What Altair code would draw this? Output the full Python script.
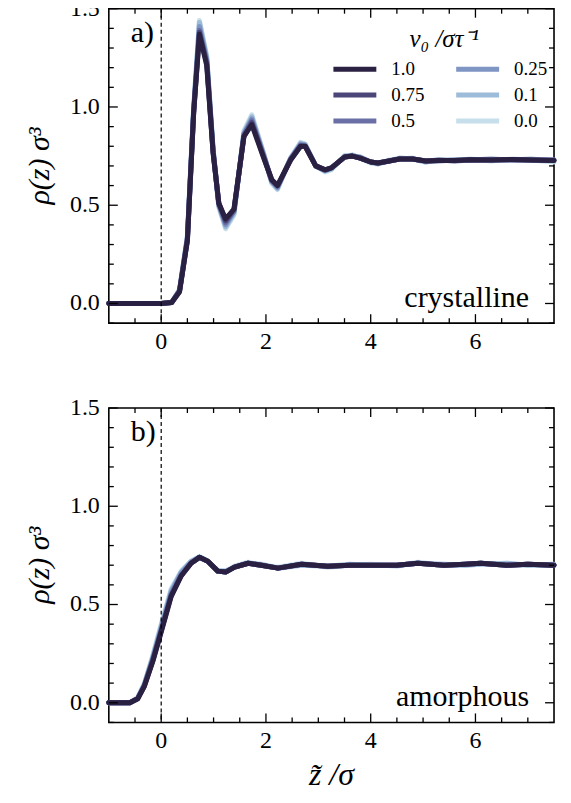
import altair as alt
import pandas as pd

# ---------------- data ----------------
series = ["0.0", "0.1", "0.25", "0.5", "0.75", "1.0"]          # drawing order (dark on top)
legend_order = ["1.0", "0.75", "0.5", "0.25", "0.1", "0.0"]
legend_colors = ["#2a2042", "#4a4677", "#6a70a6", "#7f95c4", "#9dbcda", "#c6dfea"]

# crystalline wall
z_cry = [-1.0, 0.0, 0.2, 0.35, 0.5, 0.62, 0.73, 0.87, 0.99, 1.10, 1.23, 1.39, 1.58,
         1.73, 1.97, 2.11, 2.22, 2.47, 2.66, 2.75, 2.95, 3.13, 3.25, 3.50, 3.65, 3.80,
         4.0, 4.14, 4.35, 4.55, 4.8, 5.05, 5.3, 5.6, 5.9, 6.3, 6.7, 7.06, 7.5]
cry_00 = [0.0, 0.0, 0.005, 0.07, 0.34, 1.00, 1.44, 1.26, 0.79, 0.49, 0.38, 0.45, 0.88,
          0.96, 0.75, 0.61, 0.58, 0.74, 0.82, 0.81, 0.70, 0.67, 0.68, 0.75, 0.755, 0.74,
          0.715, 0.71, 0.73, 0.735, 0.74, 0.72, 0.73, 0.725, 0.735, 0.725, 0.735, 0.73, 0.72]
cry_01 = [0.0, 0.0, 0.005, 0.07, 0.34, 0.99, 1.43, 1.25, 0.79, 0.50, 0.39, 0.46, 0.87,
          0.95, 0.75, 0.62, 0.585, 0.74, 0.815, 0.81, 0.70, 0.675, 0.685, 0.75, 0.755, 0.74,
          0.72, 0.71, 0.725, 0.74, 0.735, 0.72, 0.73, 0.73, 0.73, 0.73, 0.73, 0.735, 0.725]
cry_025 = [0.0, 0.0, 0.005, 0.065, 0.33, 0.98, 1.41, 1.24, 0.78, 0.50, 0.40, 0.47, 0.86,
           0.94, 0.74, 0.62, 0.59, 0.735, 0.81, 0.805, 0.70, 0.675, 0.69, 0.745, 0.75, 0.745,
           0.72, 0.715, 0.725, 0.735, 0.735, 0.725, 0.725, 0.73, 0.73, 0.735, 0.73, 0.73, 0.73]
cry_05 = [0.0, 0.0, 0.005, 0.065, 0.33, 0.98, 1.39, 1.23, 0.78, 0.51, 0.41, 0.47, 0.86,
          0.93, 0.74, 0.625, 0.595, 0.735, 0.805, 0.80, 0.70, 0.68, 0.69, 0.745, 0.75, 0.74,
          0.72, 0.715, 0.725, 0.735, 0.735, 0.725, 0.73, 0.725, 0.73, 0.73, 0.73, 0.73, 0.73]
cry_075 = [0.0, 0.0, 0.005, 0.06, 0.32, 0.97, 1.38, 1.22, 0.77, 0.51, 0.42, 0.48, 0.85,
           0.92, 0.735, 0.63, 0.60, 0.73, 0.80, 0.80, 0.70, 0.68, 0.69, 0.745, 0.75, 0.74,
           0.72, 0.715, 0.725, 0.735, 0.735, 0.725, 0.728, 0.728, 0.732, 0.73, 0.733, 0.73, 0.728]
cry_10 = [0.0, 0.0, 0.005, 0.06, 0.32, 0.97, 1.37, 1.21, 0.77, 0.51, 0.43, 0.48, 0.85,
          0.91, 0.73, 0.63, 0.60, 0.73, 0.80, 0.80, 0.70, 0.68, 0.69, 0.745, 0.75, 0.74,
          0.72, 0.715, 0.725, 0.735, 0.735, 0.725, 0.728, 0.728, 0.732, 0.73, 0.733, 0.73, 0.728]

# amorphous wall
z_amo = [-1.0, -0.6, -0.45, -0.32, -0.16, 0.0, 0.19, 0.38, 0.57, 0.73, 0.89, 1.08, 1.23,
         1.40, 1.66, 1.91, 2.23, 2.68, 3.18, 3.6, 4.0, 4.5, 4.9, 5.4, 5.8, 6.1, 6.6, 7.0, 7.5]
amo_00 = [0.0, 0.0, 0.025, 0.10, 0.24, 0.40, 0.58, 0.67, 0.72, 0.745, 0.72, 0.675, 0.67,
          0.695, 0.715, 0.70, 0.69, 0.71, 0.69, 0.70, 0.705, 0.695, 0.715, 0.70, 0.70, 0.71, 0.705, 0.70, 0.70]
amo_01 = [0.0, 0.0, 0.025, 0.095, 0.235, 0.39, 0.57, 0.665, 0.72, 0.74, 0.72, 0.67, 0.67,
          0.69, 0.71, 0.705, 0.685, 0.70, 0.695, 0.705, 0.70, 0.70, 0.71, 0.705, 0.70, 0.705, 0.71, 0.70, 0.705]
amo_025 = [0.0, 0.0, 0.02, 0.09, 0.225, 0.38, 0.56, 0.66, 0.715, 0.74, 0.72, 0.67, 0.665,
           0.69, 0.71, 0.70, 0.685, 0.705, 0.695, 0.70, 0.70, 0.70, 0.71, 0.70, 0.705, 0.71, 0.70, 0.705, 0.70]
amo_05 = [0.0, 0.0, 0.02, 0.09, 0.22, 0.37, 0.55, 0.65, 0.71, 0.74, 0.72, 0.67, 0.665,
          0.69, 0.71, 0.70, 0.685, 0.705, 0.695, 0.70, 0.70, 0.70, 0.71, 0.70, 0.705, 0.71, 0.70, 0.705, 0.70]
amo_075 = [0.0, 0.0, 0.02, 0.085, 0.215, 0.365, 0.545, 0.645, 0.71, 0.74, 0.72, 0.67, 0.665,
           0.69, 0.71, 0.70, 0.685, 0.705, 0.695, 0.70, 0.70, 0.70, 0.71, 0.70, 0.705, 0.71, 0.70, 0.705, 0.70]
amo_10 = [0.0, 0.0, 0.02, 0.085, 0.21, 0.36, 0.54, 0.645, 0.71, 0.74, 0.72, 0.67, 0.665,
          0.69, 0.71, 0.70, 0.685, 0.705, 0.695, 0.70, 0.70, 0.70, 0.71, 0.70, 0.705, 0.71, 0.70, 0.705, 0.70]

# tick positions / labels
x_major = [0, 2, 4, 6]
x_minor = [-0.5, 0.5, 1, 1.5, 2.5, 3, 3.5, 4.5, 5, 5.5, 6.5, 7]
y_major = [0.0, 0.5, 1.0, 1.5]
y_minor = [-0.1, 0.1, 0.2, 0.3, 0.4, 0.6, 0.7, 0.8, 0.9, 1.1, 1.2, 1.3, 1.4]
x_labels = ["0", "2", "4", "6"]
y_labels = ["0.0", "0.5", "1.0", "1.5"]

# ---------------- build ----------------
cry = {"0.0": cry_00, "0.1": cry_01, "0.25": cry_025, "0.5": cry_05, "0.75": cry_075, "1.0": cry_10}
amo = {"0.0": amo_00, "0.1": amo_01, "0.25": amo_025, "0.5": amo_05, "0.75": amo_075, "1.0": amo_10}


def long_df(zs, d):
    rows = []
    for s in series:
        for z, r in zip(zs, d[s]):
            rows.append({"z": z, "rho": r, "v": s})
    return pd.DataFrame(rows)


W, H = 446, 315
FONT = "Times New Roman, Liberation Serif, serif"
MAJ, MIN = 9, 5

xscale = alt.Scale(domain=[-1, 7.5], nice=False, zero=False)
yscale = alt.Scale(domain=[-0.1, 1.5], nice=False, zero=False)
cscale = alt.Scale(domain=legend_order, range=legend_colors)

X = lambda f: alt.X(f, scale=xscale, axis=None)
Y = lambda f: alt.Y(f, scale=yscale, axis=None)


def ticks_layers():
    layers = []
    for vals, ln in ((x_major, MAJ), (x_minor, MIN)):
        d = pd.DataFrame({"z": vals})
        layers.append(alt.Chart(d).mark_rule(color="black", strokeWidth=1.3).encode(
            x=X("z:Q"), y=alt.value(H), y2=alt.value(H - ln)))
        layers.append(alt.Chart(d).mark_rule(color="black", strokeWidth=1.3).encode(
            x=X("z:Q"), y=alt.value(0), y2=alt.value(ln)))
    for vals, ln in ((y_major, MAJ), (y_minor, MIN)):
        d = pd.DataFrame({"rho": vals})
        layers.append(alt.Chart(d).mark_rule(color="black", strokeWidth=1.3).encode(
            y=Y("rho:Q"), x=alt.value(0), x2=alt.value(ln)))
        layers.append(alt.Chart(d).mark_rule(color="black", strokeWidth=1.3).encode(
            y=Y("rho:Q"), x=alt.value(W), x2=alt.value(W - ln)))
    return layers


def label_layers(xtitle):
    one = pd.DataFrame({"a": [0]})
    xl = alt.Chart(pd.DataFrame({"z": x_major, "t": x_labels})).mark_text(
        font=FONT, fontSize=24, align="center", baseline="top", color="black"
    ).encode(x=X("z:Q"), y=alt.value(H + 7), text="t:N")
    yl = alt.Chart(pd.DataFrame({"rho": y_major, "t": y_labels})).mark_text(
        font=FONT, fontSize=24, align="right", baseline="middle", color="black"
    ).encode(y=Y("rho:Q"), x=alt.value(-9), text="t:N")
    yt = alt.Chart(one).mark_text(
        text="ρ(z) σ³", font=FONT, fontSize=30, fontStyle="italic", angle=270,
        align="center", baseline="middle", color="black"
    ).encode(x=alt.value(-69), y=alt.value(H / 2))
    out = [xl, yl, yt]
    if xtitle:
        out.append(alt.Chart(one).mark_text(
            text=xtitle, font=FONT, fontSize=32, fontStyle="italic",
            align="center", baseline="middle", color="black"
        ).encode(x=alt.value(W / 2), y=alt.value(H + 53)))
    return out


def panel(df, letter, name, legend, xtitle):
    if legend:
        leg = alt.Legend(title="v₀ /στ⁻¹", orient="none", legendX=233, legendY=18,
                         columns=2, columnPadding=21, rowPadding=2,
                         symbolType="M-2,0H2", symbolSize=462, symbolStrokeWidth=5,
                         labelFont=FONT, labelFontSize=19, labelOffset=23, labelColor="black",
                         titleFont=FONT, titleFontSize=25, titleFontStyle="italic",
                         titleFontWeight="normal", titleAnchor="middle", titlePadding=4,
                         titleColor="black")
    else:
        leg = None
    lines = []
    for s in series:
        lines.append(
            alt.Chart(df).transform_filter(alt.datum.v == s)
            .mark_line(strokeWidth=5, strokeJoin="round", strokeCap="round")
            .encode(x=X("z:Q"), y=Y("rho:Q"),
                    color=alt.Color("v:N", scale=cscale, legend=leg))
        )
    zero = alt.Chart(pd.DataFrame({"z": [0.0]})).mark_rule(
        color="black", strokeWidth=1.2, strokeDash=[4, 3]).encode(x=X("z:Q"))
    one = pd.DataFrame({"a": [0]})
    letter_t = alt.Chart(one).mark_text(
        text=letter, font=FONT, fontSize=30, align="left", baseline="alphabetic", color="black"
    ).encode(x=alt.value(22), y=alt.value(33))
    name_t = alt.Chart(one).mark_text(
        text=name, font=FONT, fontSize=30, align="right", baseline="alphabetic", color="black"
    ).encode(x=alt.value(421), y=alt.value(299))
    return alt.layer(*lines, zero, letter_t, name_t, *ticks_layers(),
                     *label_layers(xtitle)).properties(width=W, height=H)


top = panel(long_df(z_cry, cry), "a)", "crystalline", True, None)
bottom = panel(long_df(z_amo, amo), "b)", "amorphous", False, "z̃ /σ")

chart = alt.vconcat(top, bottom, spacing=85, bounds="flush").resolve_scale(
    color="independent").resolve_legend(color="independent").properties(
    padding={"top": -13, "left": 16, "right": 5, "bottom": 5}
).configure(font=FONT).configure_view(stroke="black", strokeWidth=1.6)

chart.save("out.html", embed_options={"renderer": "svg", "actions": False})
